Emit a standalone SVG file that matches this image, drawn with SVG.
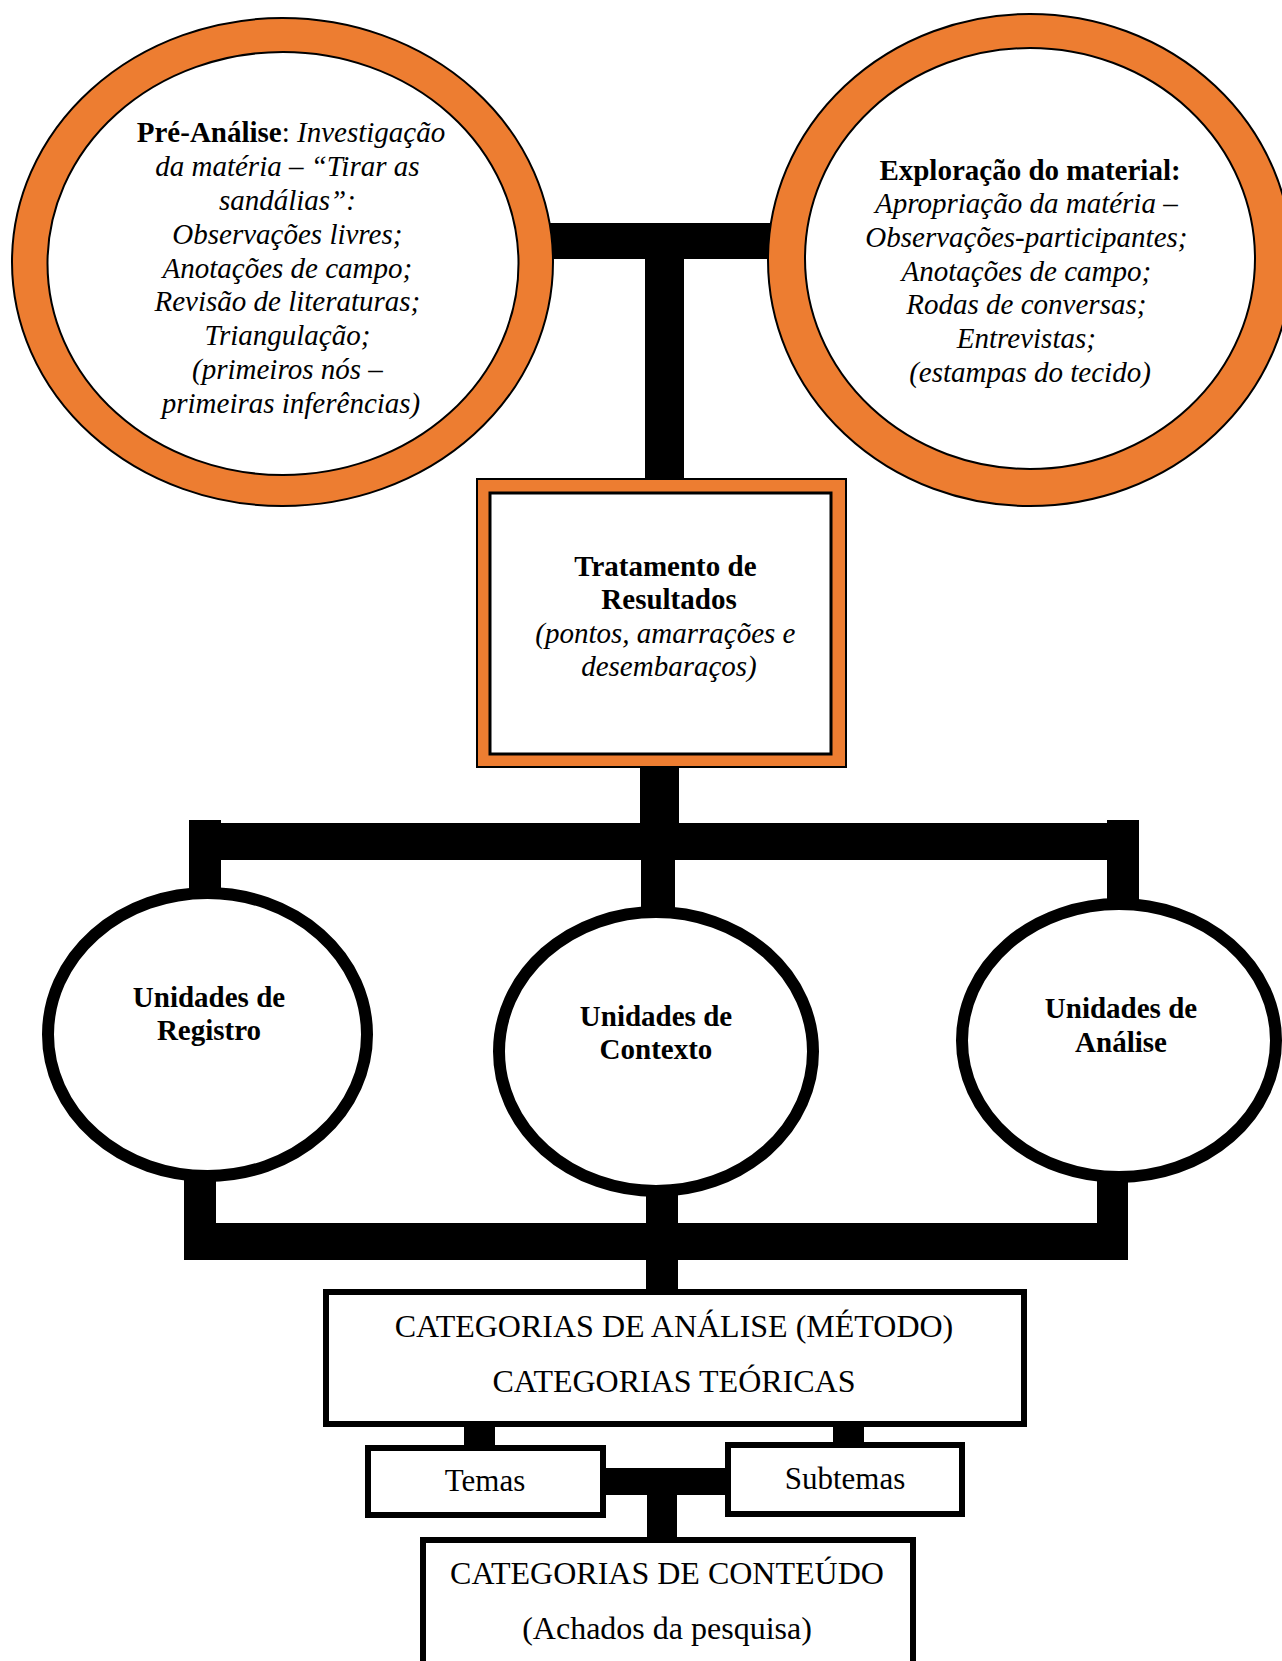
<svg xmlns="http://www.w3.org/2000/svg" width="1282" height="1661" viewBox="0 0 1282 1661">
<style>
  .t { font-family: "Liberation Serif", "Times New Roman", serif; fill: #000; text-anchor: middle; }
  .it { font-style: italic; font-size: 29px; }
  .bd { font-weight: bold; font-size: 29px; }
  .rg { font-size: 32px; }
  .ring { fill: #ED7D31; stroke: #000; stroke-width: 2; }
  .inner { fill: #fff; stroke: #000; stroke-width: 2; }
  .unit { fill: #fff; stroke: #000; stroke-width: 12; }
  .box { fill: #fff; stroke: #000; stroke-width: 6; }
  .bar { fill: #000; }
</style>
<rect width="1282" height="1661" fill="#fff"/>
<g id="connectors">
  <rect class="bar" x="550" y="223" width="222" height="36"/>
  <rect class="bar" x="645" y="250" width="39" height="230"/>
  <rect class="bar" x="640" y="766" width="39" height="60"/>
  <rect class="bar" x="189" y="823" width="950" height="37"/>
  <rect class="bar" x="189" y="820" width="32" height="75"/>
  <rect class="bar" x="1107" y="820" width="32" height="85"/>
  <rect class="bar" x="641" y="855" width="34" height="60"/>
  <rect class="bar" x="184" y="1170" width="32" height="90"/>
  <rect class="bar" x="1097" y="1175" width="31" height="84"/>
  <rect class="bar" x="184" y="1223" width="944" height="37"/>
  <rect class="bar" x="646" y="1185" width="32" height="108"/>
  <rect class="bar" x="464" y="1424" width="31" height="25"/>
  <rect class="bar" x="833" y="1424" width="31" height="22"/>
  <rect class="bar" x="604" y="1468" width="123" height="27"/>
  <rect class="bar" x="647" y="1492" width="30" height="48"/>
</g>
<g id="pre-analise">
  <ellipse class="ring" cx="282.5" cy="262" rx="270.5" ry="244"/>
  <ellipse class="inner" cx="283" cy="263.5" rx="235.5" ry="211.5"/>
  <text class="t" x="291" y="142" font-size="29"><tspan font-weight="bold">Pré-Análise</tspan>: <tspan font-style="italic">Investigação</tspan></text>
  <text class="t it">
    <tspan x="291" y="176">da matéria – “Tirar as</tspan>
    <tspan x="291" y="210">sandálias”:</tspan>
    <tspan x="291" y="244">Observações livres;</tspan>
    <tspan x="291" y="278">Anotações de campo;</tspan>
    <tspan x="291" y="311">Revisão de literaturas;</tspan>
    <tspan x="291" y="345">Triangulação;</tspan>
    <tspan x="291" y="379">(primeiros nós –</tspan>
    <tspan x="291" y="413">primeiras inferências)</tspan>
  </text>
</g>
<g id="exploracao">
  <ellipse class="ring" cx="1030" cy="260" rx="262" ry="246"/>
  <ellipse class="inner" cx="1030" cy="258.5" rx="225" ry="210.5"/>
  <text class="t bd" x="1030" y="180">Exploração do material:</text>
  <text class="t it">
    <tspan x="1030" y="213">Apropriação da matéria –</tspan>
    <tspan x="1030" y="247">Observações-participantes;</tspan>
    <tspan x="1030" y="281">Anotações de campo;</tspan>
    <tspan x="1030" y="314">Rodas de conversas;</tspan>
    <tspan x="1030" y="348">Entrevistas;</tspan>
    <tspan x="1030" y="382">(estampas do tecido)</tspan>
  </text>
</g>
<g id="tratamento">
  <rect x="477" y="479" width="369" height="288" fill="#ED7D31" stroke="#000" stroke-width="2"/>
  <rect x="490" y="493" width="341" height="261" fill="#fff" stroke="#000" stroke-width="3"/>
  <text class="t bd">
    <tspan x="669" y="576">Tratamento de</tspan>
    <tspan x="669" y="609">Resultados</tspan>
  </text>
  <text class="t it">
    <tspan x="669" y="643">(pontos, amarrações e</tspan>
    <tspan x="669" y="676">desembaraços)</tspan>
  </text>
</g>
<g id="registro">
  <ellipse class="unit" cx="207.5" cy="1034.5" rx="159.5" ry="141.5"/>
  <text class="t bd"><tspan x="209" y="1007">Unidades de</tspan><tspan x="209" y="1040">Registro</tspan></text>
</g>
<g id="contexto">
  <ellipse class="unit" cx="656" cy="1051.5" rx="157" ry="139.5"/>
  <text class="t bd"><tspan x="656" y="1026">Unidades de</tspan><tspan x="656" y="1059">Contexto</tspan></text>
</g>
<g id="analise">
  <ellipse class="unit" cx="1119" cy="1040.5" rx="157" ry="136.5"/>
  <text class="t bd"><tspan x="1121" y="1018">Unidades de</tspan><tspan x="1121" y="1052">Análise</tspan></text>
</g>
<g id="categorias-analise">
  <rect class="box" x="326" y="1292" width="698" height="132"/>
  <text class="t rg"><tspan x="674" y="1337">CATEGORIAS DE ANÁLISE (MÉTODO)</tspan><tspan x="674" y="1392">CATEGORIAS TEÓRICAS</tspan></text>
</g>
<g id="temas">
  <rect class="box" x="368" y="1448" width="235" height="67"/>
  <text class="t" x="485" y="1491" font-size="31">Temas</text>
</g>
<g id="subtemas">
  <rect class="box" x="728" y="1445" width="234" height="69"/>
  <text class="t" x="845" y="1489" font-size="31">Subtemas</text>
</g>
<g id="categorias-conteudo">
  <rect class="box" x="423" y="1540" width="490" height="140"/>
  <text class="t rg"><tspan x="667" y="1584">CATEGORIAS DE CONTEÚDO</tspan><tspan x="667" y="1639">(Achados da pesquisa)</tspan></text>
</g>
</svg>
